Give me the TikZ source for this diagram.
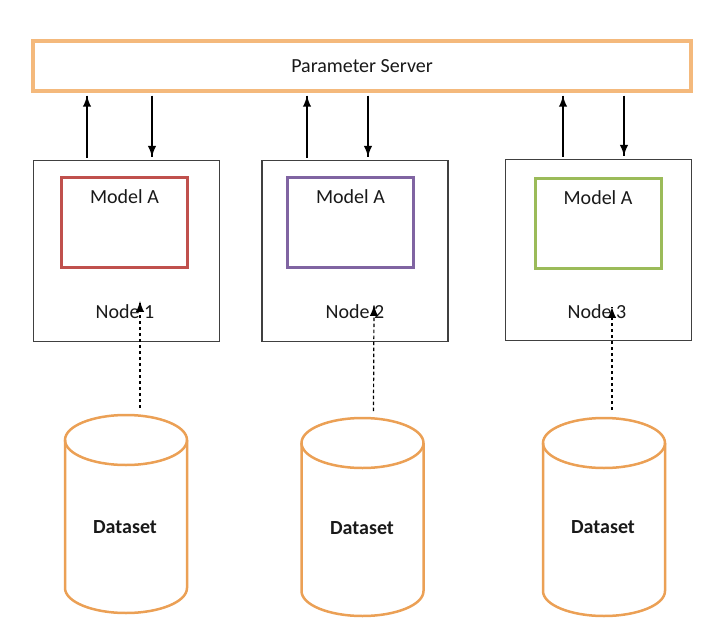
\documentclass[tikz,border=0pt]{standalone}
\usepackage{fontspec}
\setmainfont{Carlito}
\usetikzlibrary{calc}
\usetikzlibrary{arrows,decorations.markings}

\definecolor{serverorange}{HTML}{F4B97C}
\definecolor{dataorange}{HTML}{EBA055}
\definecolor{modelred}{HTML}{C0504D}
\definecolor{modelpurple}{HTML}{8064A2}
\definecolor{modelgreen}{HTML}{9BBB59}

\tikzset{
  worker/.style={draw=black!75,line width=1.4pt,minimum width=186,minimum height=181,inner sep=0},
  modelbox/.style={line width=3pt,minimum width=126,minimum height=90,inner sep=0},
  db/.style={draw=dataorange,line width=2.5pt},
  txt/.style={font=\fontsize{20}{24}\selectfont,text=black!90},
}

\begin{document}
\begin{tikzpicture}[x=1pt,y=-1pt,
% define arrow head
    decoration={
      markings,
      mark=at position 1 with {\arrow[scale=1.7,black]{latex}};
    }
]
\useasboundingbox (0,0) rectangle (710,642);
% sizes of the datasets
\pgfmathsetmacro{\rx}{61}
\pgfmathsetmacro{\ry}{25}
\pgfmathsetmacro{\h}{148}

% parameter server
\node[draw=serverorange,line width=3.5pt,minimum width=658,minimum height=50,inner sep=0,txt] (server) at (362,66) {Parameter Server};

% workers
\node[worker] (worker1) at (126.5,251) {};
\node[worker] (worker2) at (355,251) {};
\node[worker] (worker3) at (598.5,250) {};
\node[modelbox,draw=modelred] (model1) at (124.5,222.5) {};
\node[modelbox,draw=modelpurple] (model2) at (350.5,222.5) {};
\node[modelbox,draw=modelgreen] (model3) at (598,223) {};
\node[txt] (mlabel1) at ($(model1.north)+(0,21)$) {Model A};
\node[txt] (mlabel2) at ($(model2.north)+(0,21)$) {Model A};
\node[txt] (mlabel3) at ($(model3.north)+(0,21)$) {Model A};
\node[txt] (nlabel1) at (125,312) {Node 1};
\node[txt] (nlabel2) at (355,312) {Node 2};
\node[txt] (nlabel3) at (597,312) {Node 3};

% push and pull
\coordinate (up1) at (87,0);
\coordinate (down1) at (152,0);
\coordinate (up2) at (307,0);
\coordinate (down2) at (368,0);
\coordinate (up3) at (563,0);
\coordinate (down3) at (624,0);
\draw[line width=1.2pt,postaction={decorate}] ($(up1 |- worker1.north)+(0,-2)$) -- ($(up1 |- server.south)+(0,3)$);
\draw[line width=1.2pt,postaction={decorate}] ($(down1 |- server.south)+(0,3)$) -- ($(down1 |- worker1.north)+(0,-3)$);
\draw[line width=1.2pt,postaction={decorate}] ($(up2 |- worker2.north)+(0,-2)$) -- ($(up2 |- server.south)+(0,3)$);
\draw[line width=1.2pt,postaction={decorate}] ($(down2 |- server.south)+(0,3)$) -- ($(down2 |- worker2.north)+(0,-3)$);
\draw[line width=1.2pt,postaction={decorate}] ($(up3 |- worker3.north)+(0,-2)$) -- ($(up3 |- server.south)+(0,3)$);
\draw[line width=1.2pt,postaction={decorate}] ($(down3 |- server.south)+(0,3)$) -- ($(down3 |- worker3.north)+(0,-3)$);

% datasets
\coordinate (db1) at (126,440);
\coordinate (db2) at (362.5,443);
\coordinate (db3) at (604,443);
\draw[db] (db1) ellipse ({\rx} and {\ry});
\draw[db] ($(db1)+(-\rx,0)$) -- ++(0,\h) arc (180:0:{\rx} and {\ry}) -- ++(0,-\h);
\draw[db] (db2) ellipse ({\rx} and {\ry});
\draw[db] ($(db2)+(-\rx,0)$) -- ++(0,\h) arc (180:0:{\rx} and {\ry}) -- ++(0,-\h);
\draw[db] (db3) ellipse ({\rx} and {\ry});
\draw[db] ($(db3)+(-\rx,0)$) -- ++(0,\h) arc (180:0:{\rx} and {\ry}) -- ++(0,-\h);
\node[txt,font=\fontsize{20}{24}\selectfont\bfseries] (data1) at (125,527) {Dataset};
\node[txt,font=\fontsize{20}{24}\selectfont\bfseries] (data2) at (362,528) {Dataset};
\node[txt,font=\fontsize{20}{24}\selectfont\bfseries] (data3) at (603,527) {Dataset};

% feeding the nodes
\coordinate (top1) at ($(db1)+(14,-\ry-7)$);
\coordinate (top2) at ($(db2)+(11,-\ry-7)$);
\coordinate (top3) at ($(db3)+(8,-\ry-8)$);
\coordinate (in1) at (140,301);
\coordinate (in2) at (374,305);
\coordinate (in3) at (612,307);
\draw[line width=1.2pt,dash pattern=on 3.5pt off 2.5pt,postaction={decorate}] (top1) -- (in1);
\draw[line width=1.2pt,dash pattern=on 3.5pt off 2.5pt,postaction={decorate}] (top2) -- (in2);
\draw[line width=1.2pt,dash pattern=on 3.5pt off 2.5pt,postaction={decorate}] (top3) -- (in3);
\end{tikzpicture}
\end{document}
